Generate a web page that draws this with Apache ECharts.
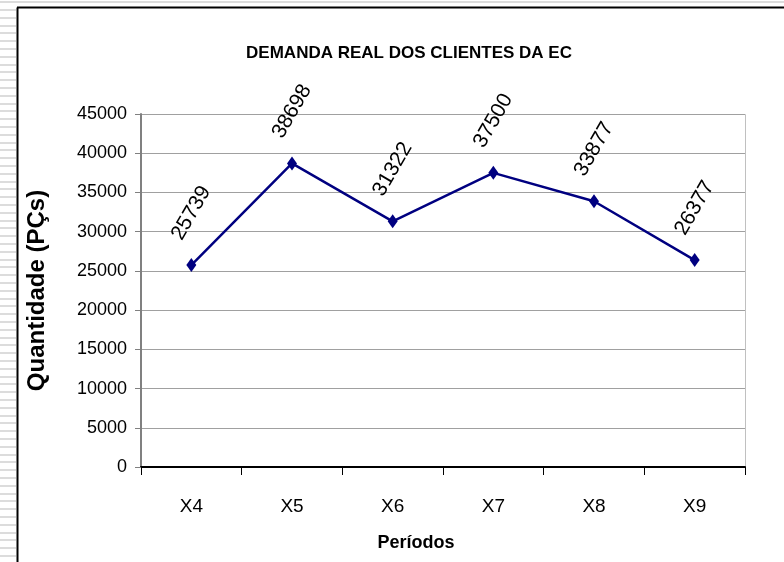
<!DOCTYPE html>
<html>
<head>
<meta charset="utf-8">
<script src="https://cdn.jsdelivr.net/npm/echarts@6/dist/echarts.min.js"></script>
<style>
  html, body { margin: 0; padding: 0; background: #fff; }
  #chart { width: 784px; height: 562px; }
</style>
</head>
<body>
<div id="chart"></div>
<script>
var periodos = ['X4', 'X5', 'X6', 'X7', 'X8', 'X9'];
var demanda = [25739, 38698, 31322, 37500, 33877, 26377];
var yTicks = [0, 5000, 10000, 15000, 20000, 25000, 30000, 35000, 40000, 45000];

var fonte = "'Liberation Sans', Arial, sans-serif";

// listras do slide + moldura (so decoracao)
function frameGraphics() {
  var g = [];
  for (var y = 9; y < 562; y += 7.8) {
    g.push({ type: 'rect', shape: { x: 0, y: Math.round(y), width: 16, height: 2 },
             style: { fill: '#dcdcdc' }, silent: true });
  }
  g.push({ type: 'rect', shape: { x: 0, y: 1, width: 784, height: 2 }, style: { fill: '#dcdcdc' }, silent: true });
  g.push({ type: 'line', shape: { x1: 17.5, y1: 7.5, x2: 17.5, y2: 562 }, style: { stroke: '#000', lineWidth: 2 }, silent: true });
  g.push({ type: 'line', shape: { x1: 17, y1: 7.5, x2: 784, y2: 7.5 }, style: { stroke: '#000', lineWidth: 2 }, silent: true });
  // borda da area do grafico (topo/direita)
  g.push({ type: 'polyline', shape: { points: [[141, 114.5], [745.5, 114.5], [745.5, 467]] },
           style: { stroke: '#c0c0c0', lineWidth: 1, fill: null }, silent: true, z: 0 });
  return g;
}

var option = {
  backgroundColor: '#fff',
  animation: false,
  title: {
    text: 'DEMANDA REAL DOS CLIENTES DA EC',
    left: 404, top: 40, textAlign: 'center',
    textStyle: { fontFamily: fonte, fontWeight: 'bold', fontSize: 17, color: '#000' }
  },
  graphic: frameGraphics(),
  grid: { left: 141, right: 39, top: 114, bottom: 95 },
  xAxis: {
    type: 'category',
    data: periodos,
    name: 'Períodos',
    nameLocation: 'middle',
    nameGap: 67,
    nameTextStyle: { fontFamily: fonte, fontWeight: 'bold', fontSize: 18, color: '#000', padding: [0, 54, 0, 0] },
    axisLine: { lineStyle: { color: '#000', width: 2 } },
    axisTick: { show: true, alignWithLabel: false, length: 8, lineStyle: { color: '#000' } },
    axisLabel: { fontFamily: fonte, fontSize: 19, color: '#000', margin: 30 },
    splitLine: { show: false }
  },
  yAxis: {
    type: 'value',
    min: 0, max: 45000, interval: 5000,
    name: 'Quantidade (PÇs)',
    nameLocation: 'middle',
    nameGap: 92,
    nameTextStyle: { fontFamily: fonte, fontWeight: 'bold', fontSize: 24, color: '#000' },
    axisLine: { show: true, lineStyle: { color: '#808080', width: 2 } },
    axisTick: { show: true, length: 6, lineStyle: { color: '#808080' } },
    axisLabel: { fontFamily: fonte, fontSize: 18, color: '#000', margin: 14,
      formatter: function (v) { return yTicks.indexOf(v) >= 0 ? String(v) : ''; } },
    splitLine: { show: true, lineStyle: { color: '#a0a0a0', width: 1 } }
  },
  series: [{
    type: 'line',
    data: demanda,
    symbol: 'diamond',
    symbolSize: [10, 14],
    itemStyle: { color: '#000080' },
    lineStyle: { color: '#000080', width: 2.5 },
    label: {
      show: true,
      position: [5, -45],
      rotate: 60,
      align: 'center',
      verticalAlign: 'middle',
      fontFamily: fonte,
      fontSize: 21,
      color: '#000'
    }
  }]
};

var myChart = echarts.init(document.getElementById('chart'));
myChart.setOption(option);
</script>
</body>
</html>
